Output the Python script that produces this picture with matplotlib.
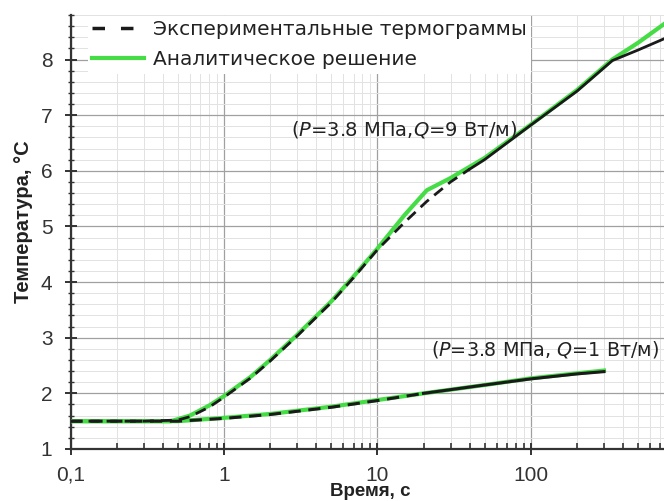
import matplotlib
matplotlib.use("Agg")
import matplotlib.pyplot as plt
from matplotlib.ticker import LogLocator, FixedLocator, MultipleLocator, FixedFormatter, NullFormatter
from matplotlib.lines import Line2D

plt.rcParams['font.family'] = ['Liberation Sans', 'DejaVu Sans']

# Upper curves (Q = 9 W/m)
t_q9_model = [0.1, 0.2, 0.3, 0.45, 0.6, 0.8, 1.0, 1.5, 2.0, 3.0, 5.0, 7.0, 10.0, 15.0, 21.0,
              30.0, 50.0, 100.0, 200.0, 340.0, 500.0, 750.0]
T_q9_model = [1.5, 1.5, 1.5, 1.5, 1.6, 1.78, 1.95, 2.3, 2.6, 3.05, 3.65, 4.1, 4.6, 5.2, 5.65,
              5.87, 6.23, 6.83, 7.45, 8.0, 8.3, 8.65]
t_q9_exp = [0.1, 0.2, 0.3, 0.5, 0.6, 0.8, 1.0, 1.5, 2.0, 3.0, 5.0, 7.0, 10.0, 15.0, 21.0,
            30.0, 40.0, 50.0, 100.0, 200.0, 340.0, 500.0, 750.0]
T_q9_exp = [1.5, 1.5, 1.5, 1.52, 1.58, 1.75, 1.93, 2.28, 2.58, 3.03, 3.63, 4.08, 4.58, 5.07, 5.45,
            5.8, 6.03, 6.2, 6.82, 7.43, 7.98, 8.17, 8.38]

# Lower curves (Q = 1 W/m)
t_q1_model = [0.1, 0.3, 0.5, 1.0, 2.0, 5.0, 10.0, 20.0, 50.0, 100.0, 200.0, 300.0]
T_q1_model = [1.5, 1.5, 1.5, 1.56, 1.63, 1.76, 1.88, 2.0, 2.15, 2.27, 2.36, 2.41]
t_q1_exp = [0.1, 0.3, 0.5, 1.0, 2.0, 5.0, 10.0, 20.0, 50.0, 100.0, 200.0, 300.0]
T_q1_exp = [1.5, 1.5, 1.5, 1.55, 1.62, 1.75, 1.87, 2.0, 2.15, 2.26, 2.35, 2.39]

x_ticks = [0.1, 1, 10, 100]
x_ticklabels = ["0,1", "1", "10", "100"]
y_ticks = [1, 2, 3, 4, 5, 6, 7, 8]

GREEN = "#45dc45"
DARK = "#1a1a1a"
W, H = 664, 501

fig = plt.figure(figsize=(6.64, 5.01), dpi=100)
ax = fig.add_axes([70.5/W, 52/H, 594.5/W, 434/H])
ax.set_xscale('log')
ax.set_xlim(0.1, 750)
ax.set_ylim(1, 8.8)

ax.xaxis.set_major_locator(FixedLocator(x_ticks))
ax.xaxis.set_major_formatter(FixedFormatter(x_ticklabels))
ax.xaxis.set_minor_locator(LogLocator(base=10, subs=range(2, 10)))
ax.xaxis.set_minor_formatter(NullFormatter())
ax.yaxis.set_major_locator(FixedLocator(y_ticks))
ax.yaxis.set_minor_locator(MultipleLocator(0.2))
ax.grid(True, which='major', color='#a0a0a0', lw=0.9)
ax.grid(True, which='minor', color='#e2e2e2', lw=0.7)
ax.set_axisbelow(True)

for s in ['top', 'right']:
    ax.spines[s].set_visible(False)
for s in ['left', 'bottom']:
    ax.spines[s].set_color('#333333')
    ax.spines[s].set_linewidth(1.6)

ax.tick_params(axis='both', which='major', direction='inout', length=8, width=1.4,
               color='#333333', labelsize=15, labelcolor='#333333')
ax.tick_params(axis='x', which='minor', direction='in', length=4, width=1.2, color='#333333')
ax.tick_params(axis='y', which='minor', direction='inout', length=5, width=1.0, color='#333333')
ax.tick_params(axis='x', which='major', pad=8)
ax.tick_params(axis='y', which='major', pad=9)

ax.plot(t_q9_model, T_q9_model, color=GREEN, lw=3.0, zorder=3)
ax.plot(t_q1_model, T_q1_model, color=GREEN, lw=3.0, zorder=3)

split9 = t_q9_exp.index(40.0)
ax.plot(t_q9_exp[:split9 + 1], T_q9_exp[:split9 + 1], color=DARK, lw=2.0, ls=(0, (4, 2.5)), zorder=4)
ax.plot(t_q9_exp[split9:], T_q9_exp[split9:], color=DARK, lw=2.0, ls='-', zorder=4)
split1 = t_q1_exp.index(20.0)
ax.plot(t_q1_exp[:split1 + 1], T_q1_exp[:split1 + 1], color=DARK, lw=2.2, ls=(0, (4, 2.5)), zorder=4)
ax.plot(t_q1_exp[split1:], T_q1_exp[split1:], color=DARK, lw=2.2, ls='-', zorder=4)

fig.text(291/W, 1 - 130/H, r"($\mathit{P}$=3.8 МПа,$\mathit{Q}$=9 Вт/м)",
         fontsize=14, family='DejaVu Sans', color='#222222', va='center', ha='left')
fig.text(431/W, 1 - 349/H, r"($\mathit{P}$=3.8 МПа, $\mathit{Q}$=1 Вт/м)",
         fontsize=13.8, family='DejaVu Sans', color='#222222', va='center', ha='left')

fig.text(370/W, 1/H, "Время, с", fontsize=13.5, fontweight='bold', color='#222222',
         ha='center', va='bottom')
ax.set_ylabel("Температура, °C", fontsize=14.5, fontweight='bold', color='#222222')
ax.yaxis.set_label_coords((33 - 70.5)/594.5, (449 - 222)/434)

handles = [Line2D([], [], color=DARK, lw=2.5, ls=(0, (3.6, 4.6))),
           Line2D([], [], color=GREEN, lw=3.0)]
labels = ["Экспериментальные термограммы", "Аналитическое решение"]
leg = ax.legend(handles, labels, loc='upper left', bbox_to_anchor=(0.012, 1.02),
                prop={'family': 'DejaVu Sans', 'size': 14.5}, frameon=True, framealpha=1.0,
                edgecolor='none', facecolor='white', handlelength=2.6, handletextpad=0.45,
                labelspacing=0.55, borderpad=0.2, fancybox=False)
for txt in leg.get_texts():
    txt.set_color('#222222')

fig.savefig("out.png", dpi=100)
